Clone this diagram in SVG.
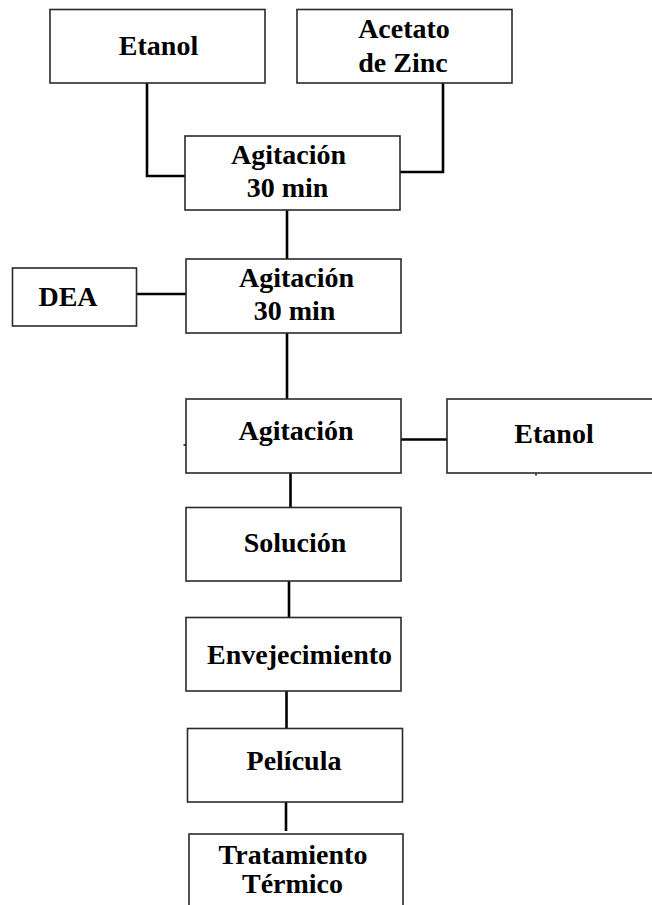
<svg xmlns="http://www.w3.org/2000/svg" width="652" height="905" viewBox="0 0 652 905">
  <style>
    .box { fill: #ffffff; stroke: #2a2a2a; stroke-width: 1.6; }
    .con { fill: none; stroke: #000000; stroke-width: 2.6; }
    .lbl { font-weight: bold; font-size: 28px; fill: #000000; text-anchor: middle; }
  </style>
  <rect x="0" y="0" width="652" height="905" fill="#ffffff"/>

  <g id="connectors">
    <polyline class="con" points="147,83 147,176 185,176"/>
    <polyline class="con" points="443,83 443,172 400,172"/>
    <line class="con" x1="287" y1="210" x2="287" y2="259"/>
    <line class="con" x1="137" y1="294" x2="186" y2="294"/>
    <line class="con" x1="287" y1="333" x2="287" y2="399"/>
    <line class="con" x1="401" y1="439.5" x2="447" y2="439.5"/>
    <line class="con" x1="290.5" y1="473" x2="290.5" y2="507.5"/>
    <line class="con" x1="289" y1="581" x2="289" y2="617.5"/>
    <line class="con" x1="286.5" y1="691" x2="286.5" y2="728.5"/>
    <line class="con" x1="286" y1="802" x2="286" y2="831"/>
    <line x1="183.5" y1="445" x2="186" y2="445" stroke="#000" stroke-width="1.5"/>
    <line x1="536" y1="473.5" x2="536" y2="475.5" stroke="#000" stroke-width="1.5"/>
  </g>

  <g font-family="'Liberation Serif', 'Times New Roman', serif">
  <g id="etanol1">
    <rect class="box" x="50" y="9.5" width="215" height="73.5"/>
    <text class="lbl" x="158.5" y="55">Etanol</text>
  </g>

  <g id="acetato">
    <rect class="box" x="297" y="9.5" width="215" height="73.5"/>
    <text class="lbl" x="404" y="37.5">Acetato</text>
    <text class="lbl" x="403" y="71.5">de Zinc</text>
  </g>

  <g id="agitacion1">
    <rect class="box" x="185" y="136" width="215" height="74"/>
    <text class="lbl" x="288.5" y="164">Agitación</text>
    <text class="lbl" x="287.5" y="196.5">30 min</text>
  </g>

  <g id="dea">
    <rect class="box" x="12.5" y="268" width="124" height="58"/>
    <text class="lbl" x="68" y="305.5">DEA</text>
  </g>

  <g id="agitacion2">
    <rect class="box" x="186" y="259" width="215" height="74"/>
    <text class="lbl" x="296.5" y="287">Agitación</text>
    <text class="lbl" x="294.5" y="320">30 min</text>
  </g>

  <g id="agitacion3">
    <rect class="box" x="186" y="399" width="215" height="74"/>
    <text class="lbl" x="296" y="440">Agitación</text>
  </g>

  <g id="etanol2">
    <rect class="box" x="447" y="399" width="215" height="74"/>
    <text class="lbl" x="554" y="443">Etanol</text>
  </g>

  <g id="solucion">
    <rect class="box" x="186" y="507.5" width="215" height="73.5"/>
    <text class="lbl" x="295" y="551.5">Solución</text>
  </g>

  <g id="envejecimiento">
    <rect class="box" x="186" y="617.5" width="215" height="73.5"/>
    <text class="lbl" x="299.5" y="664">Envejecimiento</text>
  </g>

  <g id="pelicula">
    <rect class="box" x="187.5" y="728.5" width="215" height="73.5"/>
    <text class="lbl" x="294" y="770">Película</text>
  </g>

  <g id="tratamiento">
    <rect class="box" x="189" y="834" width="214" height="100"/>
    <text class="lbl" x="293" y="864">Tratamiento</text>
    <text class="lbl" x="292.5" y="893">Térmico</text>
  </g>
  </g>
</svg>
